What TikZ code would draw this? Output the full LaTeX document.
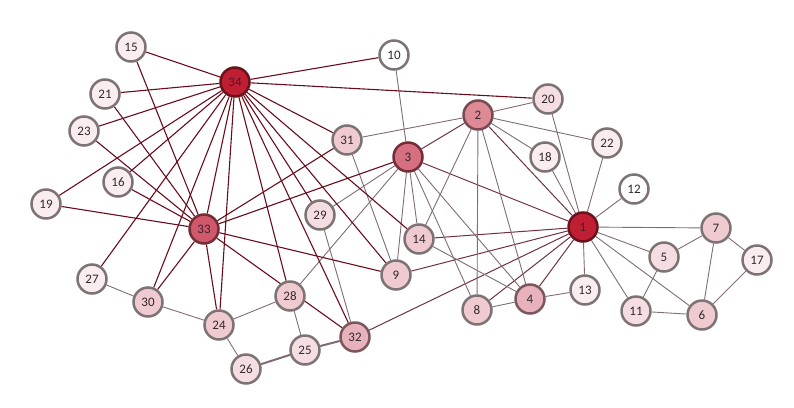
\documentclass[tikz,border=0pt]{standalone}
\usepackage{fontspec}
\setmainfont{Carlito}
\usetikzlibrary{backgrounds}
\definecolor{nA}{RGB}{192,30,50}
\definecolor{bA}{RGB}{105,18,28}
\definecolor{nB}{RGB}{208,88,106}
\definecolor{bB}{RGB}{115,45,55}
\definecolor{nC}{RGB}{214,112,128}
\definecolor{nD}{RGB}{222,138,150}
\definecolor{bD}{RGB}{120,75,82}
\definecolor{nE}{RGB}{231,178,188}
\definecolor{nF}{RGB}{239,202,208}
\definecolor{nG}{RGB}{245,222,226}
\definecolor{nH}{RGB}{249,237,239}
\definecolor{bG}{RGB}{125,115,117}
\definecolor{eDark}{RGB}{105,12,28}
\definecolor{eMid}{RGB}{112,50,62}
\definecolor{eLight}{RGB}{128,108,113}
\definecolor{txt}{RGB}{50,40,45}
\tikzset{
  nd/.style={circle,draw=bG,line width=2.5pt,minimum size=29pt,inner sep=0pt,
    font=\fontsize{13}{14}\selectfont,text=txt},
  ed/.style={draw=eLight,line width=0.9pt},
  edm/.style={draw=eMid,line width=1pt},
  edd/.style={draw=eDark,line width=1.1pt},
  edt/.style={draw=eLight,line width=2pt},
}
\begin{document}
\begin{tikzpicture}[x=1pt,y=-1pt]
\useasboundingbox (0,0) rectangle (794,407);
% node positions
\path
 (235,82) coordinate (p34) (131,47) coordinate (p15) (394,55) coordinate (p10)
 (105,94) coordinate (p21) (84,131) coordinate (p23) (548,99) coordinate (p20)
 (478,115) coordinate (p2) (347,140) coordinate (p31) (545,157) coordinate (p18)
 (607,143) coordinate (p22) (408,157) coordinate (p3) (118,182) coordinate (p16)
 (634,189) coordinate (p12) (46,204) coordinate (p19) (320,215) coordinate (p29)
 (204,229) coordinate (p33) (419,239) coordinate (p14) (583,227) coordinate (p1)
 (716,228) coordinate (p7) (664,257) coordinate (p5) (757,260) coordinate (p17)
 (92,279) coordinate (p27) (396,275) coordinate (p9) (148,302) coordinate (p30)
 (290,296) coordinate (p28) (530,299) coordinate (p4) (585,290) coordinate (p13)
 (477,310) coordinate (p8) (636,311) coordinate (p11) (702,315) coordinate (p6)
 (219,325) coordinate (p24) (355,337) coordinate (p32) (305,350) coordinate (p25)
 (246,369) coordinate (p26);
% nodes
\node[nd,fill=nA,draw=bA] (n34) at (p34) {34};
\node[nd,fill=nA,draw=bA] (n1) at (p1) {1};
\node[nd,fill=nB,draw=bB] (n33) at (p33) {33};
\node[nd,fill=nC,draw=bB] (n3) at (p3) {3};
\node[nd,fill=nD,draw=bD] (n2) at (p2) {2};
\foreach \i in {4,32}{\node[nd,fill=nE,draw=bD!70!bG] (n\i) at (p\i) {\i};}
\foreach \i in {9,14,24,28,30,31,7,6,8}{\node[nd,fill=nF] (n\i) at (p\i) {\i};}
\foreach \i in {5,11,20,25,26,29}{\node[nd,fill=nG] (n\i) at (p\i) {\i};}
\foreach \i in {13,15,16,17,18,19,21,22,23,27}{\node[nd,fill=nH] (n\i) at (p\i) {\i};}
\foreach \i in {10,12}{\node[nd,fill=white] (n\i) at (p\i) {\i};}
% edges
\begin{scope}[on background layer]
\foreach \a/\b in {1/2,1/3,2/3,1/4,1/9,1/32,1/14,1/8}
  \draw[edm] (n\a) -- (n\b);
\foreach \a/\b in {1/5,1/6,1/7,1/11,1/12,1/13,1/18,1/20,1/22,
  2/4,2/8,2/14,2/18,2/20,2/22,2/31,
  3/4,3/8,3/9,3/10,3/14,3/28,3/29,
  4/8,4/13,4/14,5/7,5/11,6/7,6/11,6/17,7/17,
  9/31,24/26,24/28,24/30,25/28,27/30,29/32}
  \draw[ed] (n\a) -- (n\b);
\foreach \a/\b in {25/26,25/32}
  \draw[edt] (n\a) -- (n\b);
\foreach \b in {9,10,14,15,16,19,20,21,23,24,27,28,29,30,31,32,33}
  \draw[edd] (n34) -- (n\b);
\foreach \b in {3,9,15,16,19,21,23,24,30,31,32}
  \draw[edd] (n33) -- (n\b);
\end{scope}
\end{tikzpicture}
\end{document}
